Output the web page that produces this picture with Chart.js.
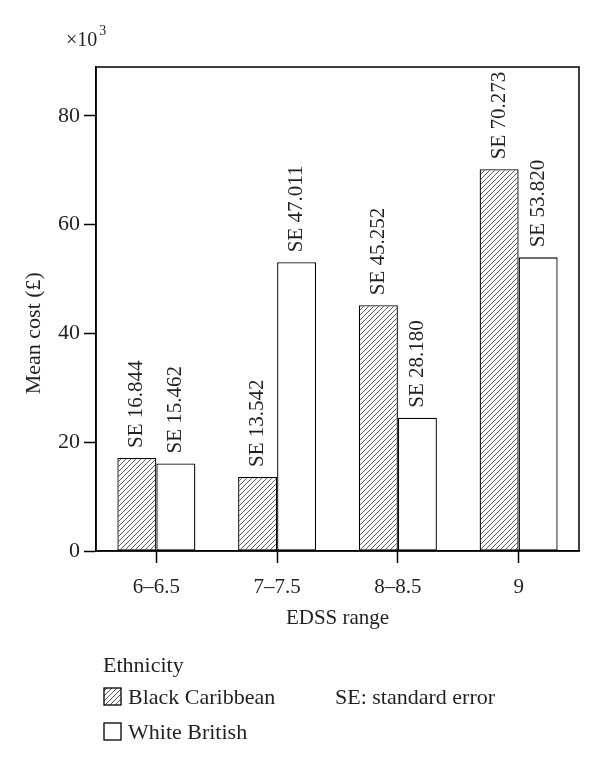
<!DOCTYPE html>
<html>
<head>
<meta charset="utf-8">
<script src="https://cdn.jsdelivr.net/npm/chart.js@4/dist/chart.umd.min.js"></script>
<style>
  html, body { margin: 0; padding: 0; background: #ffffff; }
  #wrap { width: 600px; height: 775px; }
</style>
</head>
<body>
<div id="wrap"><canvas id="c" width="600" height="775"></canvas></div>
<script>
// ---- data ----
const categories = ['6\u20136.5', '7\u20137.5', '8\u20138.5', '9'];
const seriesNames = ['Black Caribbean', 'White British'];
const blackCaribbean = [17.1, 13.6, 45.2, 70.2];
const whiteBritish = [16.1, 53.1, 24.5, 54.0];
const seBlackCaribbean = ['16.844', '13.542', '45.252', '70.273'];
const seWhiteBritish = ['15.462', '47.011', '28.180', '53.820'];
const yMax = 89;
const yStep = 20;

const FONT = "'Liberation Serif', 'DejaVu Serif', serif";
const INK = '#231f20';

function hatchPattern() {
  const s = 5;
  const p = document.createElement('canvas');
  p.width = s; p.height = s;
  const g = p.getContext('2d');
  g.fillStyle = '#ffffff';
  g.fillRect(0, 0, s, s);
  g.strokeStyle = '#4a4a4a';
  g.lineWidth = 0.9;
  g.beginPath();
  g.moveTo(0, s); g.lineTo(s, 0);
  g.moveTo(-1, 1); g.lineTo(1, -1);
  g.moveTo(s - 1, s + 1); g.lineTo(s + 1, s - 1);
  g.stroke();
  return document.getElementById('c').getContext('2d').createPattern(p, 'repeat');
}
const hatch = hatchPattern();

const annotations = {
  id: 'annotations',
  afterDatasetsDraw(chart) {
    const ctx = chart.ctx;
    const a = chart.chartArea;
    ctx.save();
    // frame top and right
    ctx.strokeStyle = '#000';
    ctx.lineWidth = 1.5;
    ctx.strokeRect(a.left, a.top, a.right - a.left, a.bottom - a.top);

    // SE labels above bars
    const seLists = [seBlackCaribbean, seWhiteBritish];
    ctx.fillStyle = INK;
    ctx.font = '21px ' + FONT;
    chart.data.datasets.forEach((ds, di) => {
      chart.getDatasetMeta(di).data.forEach((bar, i) => {
        ctx.save();
        ctx.translate(bar.x, bar.y - 10);
        ctx.rotate(-Math.PI / 2);
        ctx.textAlign = 'left';
        ctx.textBaseline = 'middle';
        ctx.fillText('SE ' + seLists[di][i], 0, 0);
        ctx.restore();
      });
    });
    ctx.restore();
  },
  afterDraw(chart) {
    const ctx = chart.ctx;
    const a = chart.chartArea;
    ctx.save();
    ctx.fillStyle = INK;
    // x10^3 multiplier
    ctx.font = '20px ' + FONT;
    ctx.textAlign = 'left';
    ctx.textBaseline = 'alphabetic';
    ctx.fillText('\u00d710', 66, 46);
    const w = ctx.measureText('\u00d710').width;
    ctx.font = '14px ' + FONT;
    ctx.fillText('3', 66 + w + 2, 35);

    // y axis title
    ctx.font = '22px ' + FONT;
    ctx.save();
    ctx.translate(34, a.top + (a.bottom - a.top) * 0.55);
    ctx.rotate(-Math.PI / 2);
    ctx.textAlign = 'center';
    ctx.textBaseline = 'middle';
    ctx.fillText('Mean cost (\u00a3)', 0, 0);
    ctx.restore();

    // legend
    ctx.font = '22px ' + FONT;
    ctx.textAlign = 'left';
    ctx.textBaseline = 'alphabetic';
    ctx.fillText('Ethnicity', 103, 672);
    const rows = [704, 739];
    chart.data.datasets.forEach((ds, di) => {
      const base = rows[di];
      ctx.fillStyle = ds.backgroundColor;
      ctx.fillRect(104, base - 16, 17, 17);
      ctx.strokeStyle = '#000';
      ctx.lineWidth = 1.3;
      ctx.strokeRect(104, base - 16, 17, 17);
      ctx.fillStyle = INK;
      ctx.fillText(ds.label, 128, base);
    });
    ctx.fillText('SE: standard error', 335, 704);
    ctx.restore();
  }
};

new Chart(document.getElementById('c'), {
  type: 'bar',
  data: {
    labels: categories,
    datasets: [
      {
        label: seriesNames[0],
        data: blackCaribbean,
        backgroundColor: hatch,
        borderColor: '#000',
        borderWidth: 1.3,
        borderSkipped: false
      },
      {
        label: seriesNames[1],
        data: whiteBritish,
        backgroundColor: '#ffffff',
        borderColor: '#000',
        borderWidth: 1.3,
        borderSkipped: false
      }
    ]
  },
  options: {
    responsive: false,
    devicePixelRatio: 1,
    animation: false,
    events: [],
    categoryPercentage: 0.646,
    barPercentage: 1.0,
    layout: { padding: { left: 0, right: 21, top: 67, bottom: 0 } },
    plugins: {
      legend: { display: false },
      tooltip: { enabled: false },
      title: { display: false }
    },
    scales: {
      x: {
        offset: true,
        grid: {
          offset: false,
          drawOnChartArea: false,
          drawTicks: true,
          tickLength: 12,
          tickColor: '#000',
          tickWidth: 1.5
        },
        border: { display: true, color: '#000', width: 1.5 },
        ticks: {
          color: INK,
          padding: 12,
          font: { family: FONT, size: 21 },
          maxRotation: 0
        },
        title: {
          display: true,
          text: 'EDSS range',
          color: INK,
          font: { family: FONT, size: 21 },
          padding: { top: 0, bottom: 144 }
        },
        afterFit(scale) { scale.height = 224; }
      },
      y: {
        min: 0,
        max: yMax,
        grid: {
          drawOnChartArea: false,
          drawTicks: true,
          tickLength: 12,
          tickColor: '#000',
          tickWidth: 1.5
        },
        border: { display: true, color: '#000', width: 1.5 },
        ticks: {
          stepSize: yStep,
          includeBounds: false,
          color: INK,
          padding: 4,
          font: { family: FONT, size: 22 }
        },
        afterFit(scale) { scale.width = 96; }
      }
    }
  },
  plugins: [annotations]
});
</script>
</body>
</html>
